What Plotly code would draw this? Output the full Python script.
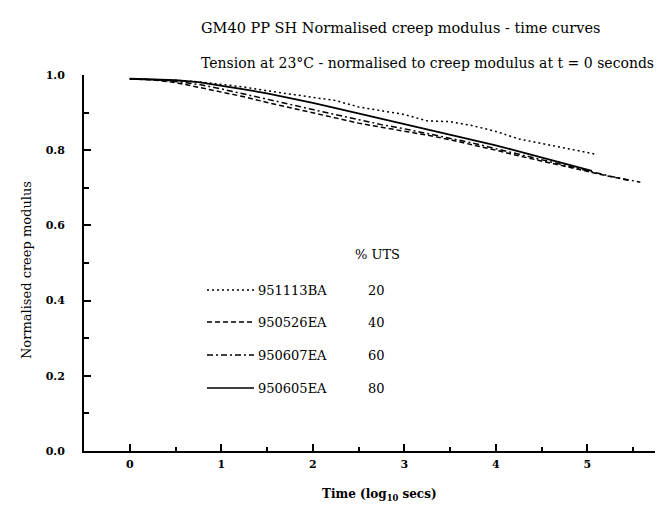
import plotly.graph_objects as go

# ---- data ----
x_20 = [0, 0.25, 0.5, 0.75, 1, 1.25, 1.5, 1.75, 2, 2.25, 2.5, 2.75, 3, 3.25, 3.5, 3.75, 4, 4.25, 4.5, 4.75, 5, 5.08]
y_20 = [0.990, 0.989, 0.986, 0.982, 0.975, 0.968, 0.958, 0.950, 0.942, 0.932, 0.915, 0.905, 0.895, 0.878, 0.876, 0.865, 0.850, 0.830, 0.818, 0.805, 0.795, 0.790]

x_40 = [0, 0.25, 0.5, 0.75, 1, 1.25, 1.5, 1.75, 2, 2.25, 2.5, 2.75, 3, 3.25, 3.5, 3.75, 4, 4.25, 4.5, 4.75, 5, 5.25, 5.45]
y_40 = [0.990, 0.987, 0.980, 0.968, 0.955, 0.942, 0.927, 0.913, 0.898, 0.884, 0.872, 0.861, 0.851, 0.840, 0.828, 0.815, 0.800, 0.785, 0.771, 0.757, 0.742, 0.730, 0.720]

x_60 = [0, 0.25, 0.5, 0.75, 1, 1.25, 1.5, 1.75, 2, 2.25, 2.5, 2.75, 3, 3.25, 3.5, 3.75, 4, 4.25, 4.5, 4.75, 5, 5.25, 5.58]
y_60 = [0.990, 0.988, 0.983, 0.975, 0.963, 0.950, 0.937, 0.922, 0.908, 0.894, 0.880, 0.868, 0.857, 0.845, 0.833, 0.819, 0.804, 0.789, 0.774, 0.759, 0.744, 0.731, 0.715]

x_80 = [0, 0.25, 0.5, 0.75, 1, 1.25, 1.5, 1.75, 2, 2.25, 2.5, 2.75, 3, 3.25, 3.5, 3.75, 4, 4.25, 4.5, 4.75, 5, 5.05]
y_80 = [0.990, 0.989, 0.986, 0.981, 0.972, 0.962, 0.951, 0.939, 0.926, 0.912, 0.898, 0.884, 0.870, 0.856, 0.842, 0.828, 0.813, 0.797, 0.781, 0.765, 0.748, 0.745]

specimens = ["951113BA", "950526EA", "950607EA", "950605EA"]
uts_pct = ["20", "40", "60", "80"]
dashes = ["2px,3px", "5px,3px", "6px,3px,2px,3px", "solid"]
series_x = [x_20, x_40, x_60, x_80]
series_y = [y_20, y_40, y_60, y_80]

title_1 = "GM40 PP SH Normalised creep modulus - time curves"
title_2 = "Tension at 23\u00b0C - normalised to creep modulus at t = 0 seconds"
x_title = "Time (log<sub>10</sub> secs)"
y_title = "Normalised creep modulus"

SERIF = "DejaVu Serif"

fig = go.Figure()
for sx, sy, d, name in zip(series_x, series_y, dashes, specimens):
    fig.add_trace(go.Scatter(x=sx, y=sy, mode="lines", name=name,
                             line=dict(color="black", width=1.8 if d == "solid" else 1.5, dash=d),
                             showlegend=False))

# plot area geometry (pixels)
L, R, T, B = 76, 0, 67, 62
W, H = 663, 505
pw, ph = W - L - R, H - T - B

def px(xp):
    return (xp - L) / pw

def py(yp):
    return (H - B - yp) / ph

# custom legend
row_y = [282, 314, 347, 380]
for i in range(4):
    fig.add_shape(type="line", xref="paper", yref="paper",
                  x0=px(199), x1=px(246), y0=py(row_y[i]), y1=py(row_y[i]),
                  line=dict(color="black", width=1.5, dash=dashes[i]))
    fig.add_annotation(xref="paper", yref="paper", x=px(248), y=py(row_y[i]),
                       text=specimens[i], showarrow=False, xanchor="left", yanchor="middle",
                       font=dict(family=SERIF, size=13, color="black"))
    fig.add_annotation(xref="paper", yref="paper", x=px(368), y=py(row_y[i]),
                       text=uts_pct[i], showarrow=False, xanchor="center", yanchor="middle",
                       font=dict(family=SERIF, size=13, color="black"))
fig.add_annotation(xref="paper", yref="paper", x=px(370), y=py(246),
                   text="% UTS", showarrow=False, xanchor="center", yanchor="middle",
                   font=dict(family=SERIF, size=13, color="black"))

# titles
fig.add_annotation(xref="paper", yref="paper", x=px(191), y=py(20), text=title_1,
                   showarrow=False, xanchor="left", yanchor="middle",
                   font=dict(family=SERIF, size=14.5, color="black"))
fig.add_annotation(xref="paper", yref="paper", x=px(191), y=py(55), text=title_2,
                   showarrow=False, xanchor="left", yanchor="middle",
                   font=dict(family=SERIF, size=14, color="black"))
fig.add_annotation(xref="paper", yref="paper", x=px(372), y=py(487), text=x_title,
                   showarrow=False, xanchor="center", yanchor="middle",
                   font=dict(family=SERIF, size=12, color="black", weight="bold"))
fig.add_annotation(xref="paper", yref="paper", x=px(18), y=py(262), text=y_title,
                   showarrow=False, textangle=-90, xanchor="center", yanchor="middle",
                   font=dict(family=SERIF, size=13, color="black"))

x_unit = 91.5
x_min = -0.5
x_max = x_min + pw / x_unit

fig.update_layout(
    width=W, height=H,
    margin=dict(l=L, r=R, t=T, b=B, pad=0),
    paper_bgcolor="white", plot_bgcolor="white",
    showlegend=False,
    xaxis=dict(range=[x_min, x_max], showgrid=False, zeroline=False,
               showline=True, linecolor="black", linewidth=2,
               ticks="inside", ticklen=7, tickwidth=2, tickcolor="black",
               tickvals=[0, 1, 2, 3, 4, 5],
               minor=dict(tickvals=[-0.5, 0.5, 1.5, 2.5, 3.5, 4.5, 5.5], ticks="inside", ticklen=4, tickwidth=2, tickcolor="black"),
               tickfont=dict(family=SERIF, size=11, color="black", weight="bold"),
               ticklabelstandoff=2),
    yaxis=dict(range=[0, 1.0], showgrid=False, zeroline=False,
               showline=True, linecolor="black", linewidth=2,
               ticks="inside", ticklen=7, tickwidth=2, tickcolor="black",
               tickvals=[0, 0.2, 0.4, 0.6, 0.8, 1.0], tickformat=".1f",
               minor=dict(tickvals=[0.1, 0.3, 0.5, 0.7, 0.9], ticks="inside", ticklen=5, tickwidth=2, tickcolor="black"),
               tickfont=dict(family=SERIF, size=11, color="black", weight="bold"),
               ticklabelstandoff=15),
)

fig.write_html("out.html")
